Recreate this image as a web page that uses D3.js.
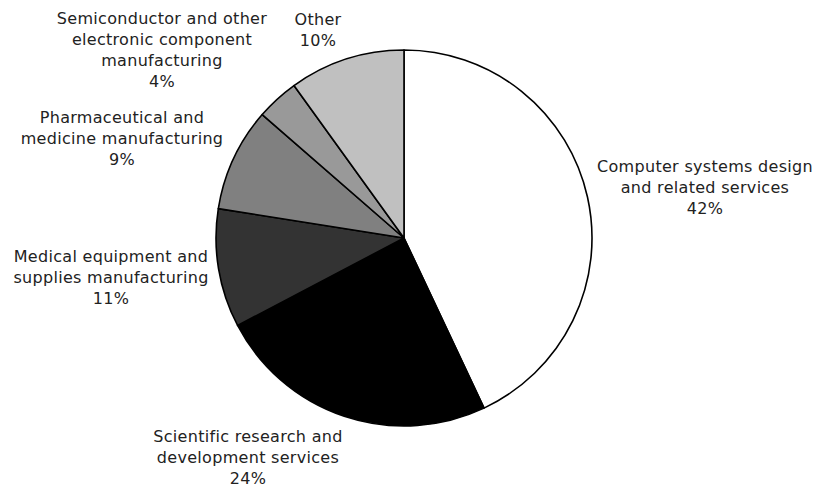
<!DOCTYPE html>
<html><head><meta charset="utf-8">
<script src="https://cdn.jsdelivr.net/npm/d3@7"></script>
<style>html,body{margin:0;padding:0;background:#fff;}svg{display:block;}</style>
</head><body>
<svg id="chart" width="817" height="489"></svg>
<script>
// Data
const categories = [
  "Computer systems design and related services",
  "Scientific research and development services",
  "Medical equipment and supplies manufacturing",
  "Pharmaceutical and medicine manufacturing",
  "Semiconductor and other electronic component manufacturing",
  "Other"
];
const values = [43.0, 24.3, 10.2, 8.9, 3.65, 9.95];
const pctLabels = ["42%", "24%", "11%", "9%", "4%", "10%"];
const labelLines = [
  ["Computer systems design", "and related services"],
  ["Scientific research and", "development services"],
  ["Medical equipment and", "supplies manufacturing"],
  ["Pharmaceutical and", "medicine manufacturing"],
  ["Semiconductor and other", "electronic component", "manufacturing"],
  ["Other"]
];
const colors = ["#ffffff", "#000000", "#333333", "#808080", "#999999", "#c0c0c0"];

// Layout
const cx = 404, cy = 238, R = 188;
const labelPos = [[705, 172], [248, 442], [111, 262], [122, 123], [162, 24], [318, 25]];
const lineH = 21;

const svg = d3.select("#chart");
const pie = d3.pie().sort(null).value(d => d)(values);
const arc = d3.arc().innerRadius(0).outerRadius(R);

const g = svg.append("g").attr("transform", `translate(${cx},${cy})`);
g.selectAll("path").data(pie).join("path")
  .attr("d", arc)
  .attr("fill", (d, i) => colors[i])
  .attr("stroke", "#000")
  .attr("stroke-width", 1.6)
  .attr("stroke-linejoin", "round");

const lg = svg.append("g")
  .attr("font-family", "Verdana, 'DejaVu Sans', sans-serif")
  .attr("font-size", 16)
  .attr("letter-spacing", 0.3)
  .attr("fill", "#222")
  .attr("text-anchor", "middle");

categories.forEach((c, i) => {
  const t = lg.append("text").attr("x", labelPos[i][0]).attr("y", labelPos[i][1]);
  const lines = labelLines[i].concat([pctLabels[i]]);
  lines.forEach((ln, j) => {
    t.append("tspan").attr("x", labelPos[i][0]).attr("y", labelPos[i][1] + j * lineH).text(ln);
  });
});
</script>
</body></html>
